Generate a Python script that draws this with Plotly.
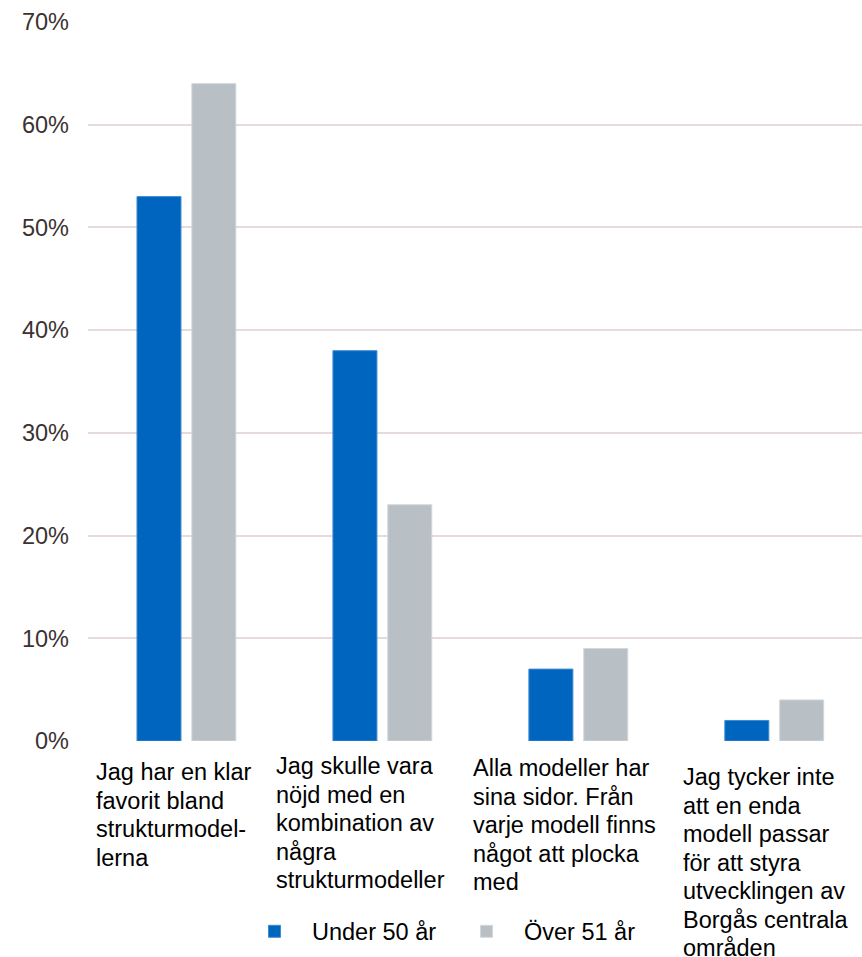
import plotly.graph_objects as go

categories = [
    "Jag har en klar favorit bland strukturmodellerna",
    "Jag skulle vara nöjd med en kombination av några strukturmodeller",
    "Alla modeller har sina sidor. Från varje modell finns något att plocka med",
    "Jag tycker inte att en enda modell passar för att styra utvecklingen av Borgås centrala områden",
]
label_lines = [
    ["Jag har en klar", "favorit bland", "strukturmodel-", "lerna"],
    ["Jag skulle vara", "nöjd med en", "kombination av", "några", "strukturmodeller"],
    ["Alla modeller har", "sina sidor. Från", "varje modell finns", "något att plocka", "med"],
    ["Jag tycker inte", "att en enda", "modell passar", "för att styra", "utvecklingen av", "Borgås centrala", "områden"],
]
series_names = ["Under 50 år", "Över 51 år"]
under_50 = [0.53, 0.38, 0.07, 0.02]
over_51 = [0.64, 0.23, 0.09, 0.04]

FONT = "Liberation Sans, Arial, sans-serif"
BLUE = "#0065BF"
GRAY = "#B8BFC5"

fig = go.Figure()
x_idx = list(range(len(categories)))
fig.add_trace(go.Bar(
    x=x_idx, y=under_50, name=series_names[0],
    marker=dict(color=BLUE, line=dict(color="#3F8AD0", width=1)),
    width=0.2245, offset=-0.25,
))
fig.add_trace(go.Bar(
    x=x_idx, y=over_51, name=series_names[1],
    marker=dict(color=GRAY, line=dict(color="#D3D7DB", width=1)),
    width=0.2245, offset=0.03,
))

# category labels (left aligned, wrapped)
left_shift = [-92, -108, -107, -93]
first_center = [772, 766, 768, 777]
line_step = 28.5
axis_px = 741
for i, lines in enumerate(label_lines):
    for j, ln in enumerate(lines):
        cy = first_center[i] + j * line_step
        fig.add_annotation(
            x=i, xref="x", y=0, yref="paper",
            text=ln, showarrow=False,
            xanchor="left", yanchor="middle",
            xshift=left_shift[i], yshift=-(cy - axis_px),
            font=dict(family=FONT, size=23.5, color="#000000"),
            align="left",
        )

fig.update_layout(
    width=862, height=957,
    margin=dict(l=88, r=0, t=22, b=216),
    paper_bgcolor="white", plot_bgcolor="white",
    barmode="overlay",
    showlegend=True,
    legend=dict(
        orientation="h", x=0.1925, xanchor="left", y=-0.265, yanchor="middle",
        font=dict(family=FONT, size=23.5, color="#000000"),
        itemwidth=65,
        entrywidth=132, entrywidthmode="pixels",
        bgcolor="rgba(0,0,0,0)",
    ),
    font=dict(family=FONT),
)
fig.update_xaxes(
    range=[-0.5, 3.45], showticklabels=False, showgrid=False,
    zeroline=False, showline=False, ticks="",
)
fig.update_yaxes(
    range=[0, 0.7], dtick=0.1, tickformat=".0%",
    showgrid=True, gridcolor="#E6DADA", gridwidth=1.5,
    zeroline=False, showline=False, ticks="",
    tickfont=dict(family=FONT, size=23.5, color="#3B3232"),
    ticklabelstandoff=18,
)

fig.write_html("out.html")
